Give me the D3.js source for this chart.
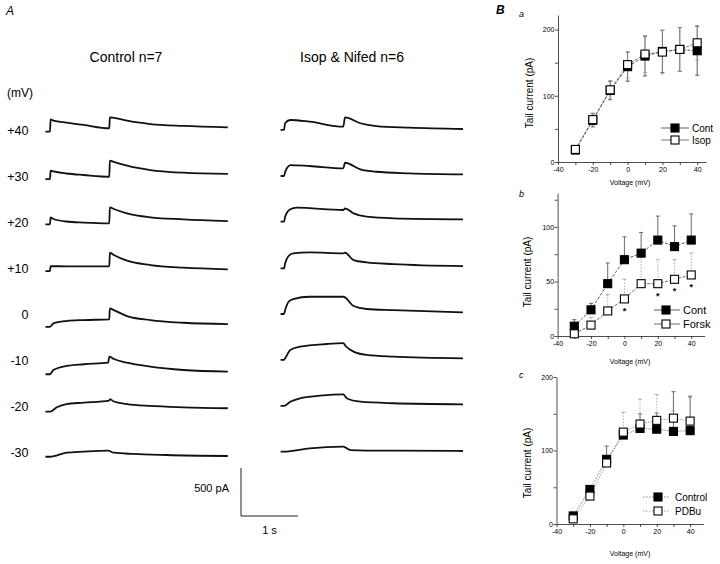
<!DOCTYPE html>
<html><head><meta charset="utf-8">
<script src="https://cdn.jsdelivr.net/npm/d3@7"></script>
<style>
body{margin:0;background:#fff}
text{font-family:"Liberation Sans",Arial,sans-serif;fill:#000}
</style>
</head><body>
<svg id="fig" width="720" height="564"></svg>
<script>
// ---------- DATA ----------
// Panel A: step voltages (mV) and current traces [time (s), current (pA)]
const stepVoltages = ["+40", "+30", "+20", "+10", "0", "-10", "-20", "-30"];
const controlTraces = [
  [[-0.08,0],[0,0],[0.01,129],[0.06,115],[0.29,94],[0.59,70],[1.04,35],[1.05,150],[1.12,145],[1.35,115],[1.76,80],[2.34,60],[3.12,46]],
  [[-0.08,-15],[0,-15],[0.01,72],[0.06,64],[0.29,43],[0.59,27],[1.04,9],[1.05,176],[1.12,163],[1.35,124],[1.76,79],[2.34,51],[3.12,38]],
  [[-0.08,-8],[0,-8],[0.01,65],[0.06,47],[0.29,21],[0.59,10],[1.04,2],[1.05,169],[1.12,151],[1.35,106],[1.76,65],[2.34,44],[3.12,26]],
  [[-0.08,-17],[0,-17],[0.01,35],[0.29,32],[1.04,32],[1.05,174],[1.12,150],[1.35,91],[1.76,46],[2.34,18],[3.12,1]],
  [[-0.08,-119],[0,-119],[0.06,-83],[0.29,-59],[0.59,-49],[1.04,-42],[1.05,73],[1.12,55],[1.35,-7],[1.76,-49],[2.34,-77],[3.12,-91]],
  [[-0.08,-135],[0,-135],[0.06,-91],[0.29,-49],[0.59,-31],[1.02,-15],[1.04,48],[1.12,24],[1.35,-15],[1.76,-56],[2.34,-91],[3.12,-108]],
  [[-0.08,-47],[0,-47],[0.12,-1],[0.29,33],[0.59,47],[1.04,68],[1.05,85],[1.12,59],[1.35,33],[1.76,13],[2.34,-1],[3.12,-11]],
  [[-0.08,-38],[0,-38],[0.29,4],[0.59,15],[1.02,25],[1.12,4],[1.46,-9],[2.04,-20],[3.12,-30]]
];
const isopTraces = [
  [[-0.06,18],[0,18],[0.02,91],[0.11,122],[0.45,104],[1.04,52],[1.07,150],[1.34,88],[1.62,59],[2.21,42],[3.14,28]],
  [[-0.06,17],[0,17],[0.02,58],[0.05,97],[0.11,131],[0.45,121],[1.04,97],[1.07,155],[1.34,86],[1.62,61],[2.21,45],[3.14,34]],
  [[-0.06,19],[0,19],[0.02,71],[0.11,148],[0.22,165],[1.04,141],[1.07,158],[1.22,106],[1.45,71],[1.92,54],[3.14,44]],
  [[-0.06,11],[0,11],[0.02,64],[0.08,140],[0.16,168],[0.45,178],[1.04,168],[1.07,174],[1.22,98],[1.45,74],[1.92,56],[3.14,35]],
  [[-0.06,14],[0,14],[0.02,55],[0.08,142],[0.16,170],[0.45,194],[1.04,194],[1.07,188],[1.22,97],[1.45,66],[1.92,55],[3.14,31]],
  [[-0.06,14],[0,14],[0.02,31],[0.11,118],[0.28,152],[0.75,180],[1.04,188],[1.08,159],[1.22,100],[1.45,66],[1.92,48],[3.14,31]],
  [[-0.06,13],[0,13],[0.11,57],[0.28,93],[0.63,120],[1.04,134],[1.1,93],[1.34,57],[1.92,41],[3.14,30]],
  [[-0.06,15],[0,15],[0.45,50],[1.04,67],[1.16,32],[1.92,25],[3.14,22]]
];
const scaleBarCurrent = 500; // pA
const scaleBarTime = 1;      // s

// Panel B: tail current (pA) vs voltage (mV)
const ivVoltages = [-30, -20, -10, 0, 10, 20, 30, 40];
const contA    = [18, 63, 108, 144, 160, 167, 170, 168];
const contAErr = [5, 10, 14, 22, 30, 32, 33, 37];
const isopA    = [19, 64, 109, 147, 163, 166, 170, 180];
const isopAErr = [5, 10, 14, 20, 28, 33, 33, 26];

const contB    = [9, 24, 48, 70, 76, 88, 82, 88];
const contBErr = [6, 6, 19, 21, 19, 22, 19, 24];
const forskB   = [2, 10, 23, 34, 48, 48, 52, 56];
const forskBErr= [3, 7, 15, 18, 27, 22, 18, 20];
const forskSig = [0, 0, 0, 1, 0, 1, 1, 1];

const controlC    = [11, 47, 88, 121, 130, 129, 126, 127];
const controlCErr = [3, 5, 18, 8, 20, 22, 54, 47];
const pdbuC       = [7, 38, 83, 125, 136, 141, 144, 140];
const pdbuCErr    = [3, 5, 8, 27, 34, 35, 10, 32];

const xTicksIV = [-40, -30, -20, -10, 0, 10, 20, 30, 40];

// ---------- DRAW ----------
const svg = d3.select("#fig");
const FONT = '"Liberation Sans",Arial,sans-serif';

// ---- Panel A ----
svg.append("text").attr("x", 6).attr("y", 15).attr("font-size", 12).attr("font-style", "italic").text("A");
svg.append("text").attr("x", 126).attr("y", 62).attr("font-size", 14).attr("text-anchor", "middle").text("Control n=7");
svg.append("text").attr("x", 352).attr("y", 62).attr("font-size", 14).attr("text-anchor", "middle").text("Isop & Nifed n=6");
svg.append("text").attr("x", 7).attr("y", 97).attr("font-size", 12).text("(mV)");

const rowY = d3.scalePoint().domain(stepVoltages).range([131.7, 453.1]);
const labelY = d3.scalePoint().domain(stepVoltages).range([135, 456.7]);
const yCur = d3.scaleLinear().domain([0, 500]).range([0, -48]);
const xCtl = d3.scaleLinear().domain([0, 1]).range([50, 107]);
const xIso = d3.scaleLinear().domain([0, 1]).range([284, 341]);

svg.append("g").selectAll("text").data(stepVoltages).join("text")
  .attr("x", 28.5).attr("y", d => labelY(d)).attr("text-anchor", "end")
  .attr("font-size", 12.5).text(d => d);

function drawTraces(traces, xs) {
  const g = svg.append("g");
  traces.forEach((tr, i) => {
    const v = stepVoltages[i];
    const line = d3.line().x(d => xs(d[0])).y(d => rowY(v) + yCur(d[1])).curve(d3.curveMonotoneX);
    g.append("path").attr("d", line(tr)).attr("fill", "none")
      .attr("stroke", "#111").attr("stroke-width", 1.8).attr("stroke-linejoin", "round");
  });
}
drawTraces(controlTraces, xCtl);
drawTraces(isopTraces, xIso);

// scale bar
const sbX = 241, sbY = 516;
const sbLen = xCtl(scaleBarTime) - xCtl(0);
svg.append("path")
  .attr("d", `M${sbX},${sbY + yCur(scaleBarCurrent)}V${sbY}H${sbX + sbLen}`)
  .attr("fill", "none").attr("stroke", "#222").attr("stroke-width", 1);
svg.append("text").attr("x", 229).attr("y", 492).attr("font-size", 11).attr("text-anchor", "end").text(scaleBarCurrent + " pA");
svg.append("text").attr("x", sbX + sbLen / 2).attr("y", 534).attr("font-size", 11).attr("text-anchor", "middle").text(scaleBarTime + " s");

// ---- Panel B ----
svg.append("text").attr("x", 496).attr("y", 14).attr("font-size", 12).attr("font-style", "italic").attr("font-weight", "bold").text("B");

function drawIV(cfg) {
  const x = d3.scaleLinear().domain(cfg.xDomain).range(cfg.xRange);
  const y = d3.scaleLinear().domain(cfg.yDomain).range(cfg.yRange);
  const g = svg.append("g");
  // axes
  const xAxis = d3.axisBottom(x).tickValues(xTicksIV)
    .tickFormat(d => d % 20 === 0 ? d : "").tickSize(3).tickSizeOuter(0);
  const gx = g.append("g").attr("transform", `translate(0,${cfg.yRange[0]})`).call(xAxis);
  const yAxis = d3.axisLeft(y).tickValues(cfg.yTicks)
    .tickFormat(d => cfg.yLabels.includes(d) ? d : "").tickSize(3).tickSizeOuter(0);
  const gy = g.append("g").attr("transform", `translate(${x(cfg.xDomain[0])},0)`).call(yAxis);
  [gx, gy].forEach(a => {
    a.selectAll("text").attr("font-size", 7).attr("font-family", FONT).attr("fill", "#000");
    a.selectAll("path,line").attr("stroke", "#222").attr("stroke-width", 0.8);
  });
  gx.selectAll("text").attr("y", 5);
  gy.selectAll("text").attr("x", -3.5);

  g.append("text").attr("transform", `translate(${cfg.yLabelX},${cfg.yLabelY}) rotate(-90)`)
    .attr("text-anchor", "middle").attr("font-size", 10).text("Tail current (pA)");
  g.append("text").attr("x", 630).attr("y", cfg.xLabelY).attr("text-anchor", "middle")
    .attr("font-size", 7).text("Voltage (mV)");
  g.append("text").attr("x", 519).attr("y", cfg.letterY).attr("font-size", 9)
    .attr("font-style", "italic").text(cfg.letter);

  // error bars
  cfg.series.forEach(s => {
    s.values.forEach((v, i) => {
      const xv = x(ivVoltages[i]);
      const lo = s.errDown ? v - s.err[i] : v;
      const hi = v + s.err[i];
      g.append("line").attr("x1", xv).attr("x2", xv).attr("y1", y(lo)).attr("y2", y(hi))
        .attr("stroke", s.errColor).attr("stroke-width", 0.8).attr("stroke-dasharray", s.errDash);
      g.append("line").attr("x1", xv - 2).attr("x2", xv + 2).attr("y1", y(hi)).attr("y2", y(hi))
        .attr("stroke", s.errColor).attr("stroke-width", 0.8);
      if (s.errDown) g.append("line").attr("x1", xv - 2).attr("x2", xv + 2).attr("y1", y(lo)).attr("y2", y(lo))
        .attr("stroke", s.errColor).attr("stroke-width", 0.8);
    });
  });
  // lines + markers
  cfg.series.forEach(s => {
    const line = d3.line().x((d, i) => x(ivVoltages[i])).y(d => y(d));
    g.append("path").attr("d", line(s.values)).attr("fill", "none")
      .attr("stroke", s.lineColor).attr("stroke-width", 0.8).attr("stroke-dasharray", s.lineDash);
  });
  cfg.series.forEach(s => {
    g.append("g").selectAll("rect").data(s.values).join("rect")
      .attr("x", (d, i) => x(ivVoltages[i]) - 4).attr("y", d => y(d) - 4)
      .attr("width", 8).attr("height", 8)
      .attr("fill", s.filled ? "#000" : "#fff").attr("stroke", "#000").attr("stroke-width", 1.1);
    if (s.sig) {
      g.append("g").selectAll("text").data(s.values.map((d, i) => [d, i]).filter(d => s.sig[d[1]]))
        .join("text").attr("x", d => x(ivVoltages[d[1]])).attr("y", d => y(d[0]) + 15)
        .attr("text-anchor", "middle").attr("font-size", 9).attr("font-weight", "bold").text("*");
    }
  });
  // legend
  cfg.series.forEach((s, k) => {
    const ly = cfg.legend.y[k];
    g.append("line").attr("x1", cfg.legend.x0).attr("x2", cfg.legend.x1).attr("y1", ly).attr("y2", ly)
      .attr("stroke", s.lineColor).attr("stroke-width", 0.8).attr("stroke-dasharray", cfg.legend.dash || null);
    g.append("rect").attr("x", cfg.legend.mx - 4).attr("y", ly - 4).attr("width", 8).attr("height", 8)
      .attr("fill", s.filled ? "#000" : "#fff").attr("stroke", "#000").attr("stroke-width", 1.1);
    g.append("text").attr("x", cfg.legend.tx).attr("y", ly + 3.5).attr("font-size", cfg.legend.fs).text(s.name);
  });
}

drawIV({
  letter: "a", letterY: 17,
  xDomain: [-40, 45], xRange: [558, 705.9],
  yDomain: [0, 222], yRange: [162, 15],
  yTicks: [0, 50, 100, 150, 200], yLabels: [0, 100, 200],
  yLabelX: 533, yLabelY: 93, xLabelY: 185,
  series: [
    {name: "Cont", values: contA, err: contAErr, errDown: true, filled: true,
     errColor: "#333", errDash: null, lineColor: "#333", lineDash: "3,1.5"},
    {name: "Isop", values: isopA, err: isopAErr, errDown: true, filled: false,
     errColor: "#999", errDash: "1.5,1.5", lineColor: "#555", lineDash: "3,1.5"}
  ],
  legend: {y: [128, 140], x0: 661, x1: 689, mx: 675, tx: 692, fs: 10}
});

drawIV({
  letter: "b", letterY: 197,
  xDomain: [-40, 48], xRange: [557.6, 704.6],
  yDomain: [0, 131], yRange: [336, 193.2],
  yTicks: [0, 25, 50, 75, 100, 125], yLabels: [0, 50, 100],
  yLabelX: 531, yLabelY: 272, xLabelY: 364,
  series: [
    {name: "Cont", values: contB, err: contBErr, errDown: false, filled: true,
     errColor: "#444", errDash: null, lineColor: "#333", lineDash: "3,1.5"},
    {name: "Forsk", values: forskB, err: forskBErr, errDown: false, filled: false, sig: forskSig,
     errColor: "#999", errDash: "1.5,1.5", lineColor: "#444", lineDash: "3,1.5"}
  ],
  legend: {y: [310, 324], x0: 654, x1: 680, mx: 666, tx: 683, fs: 11}
});

drawIV({
  letter: "c", letterY: 378,
  xDomain: [-40, 48], xRange: [556.5, 703.5],
  yDomain: [0, 200], yRange: [524, 377],
  yTicks: [0, 50, 100, 150, 200], yLabels: [0, 100, 200],
  yLabelX: 531, yLabelY: 463, xLabelY: 556,
  series: [
    {name: "Control", values: controlC, err: controlCErr, errDown: false, filled: true,
     errColor: "#444", errDash: null, lineColor: "#666", lineDash: "1.5,1.2"},
    {name: "PDBu", values: pdbuC, err: pdbuCErr, errDown: false, filled: false,
     errColor: "#999", errDash: "1.5,1.5", lineColor: "#888", lineDash: "1.5,1.2"}
  ],
  legend: {y: [497, 511], x0: 643, x1: 670, mx: 658, tx: 675, fs: 10, dash: "1.5,1.5"}
});
</script>
</body></html>
